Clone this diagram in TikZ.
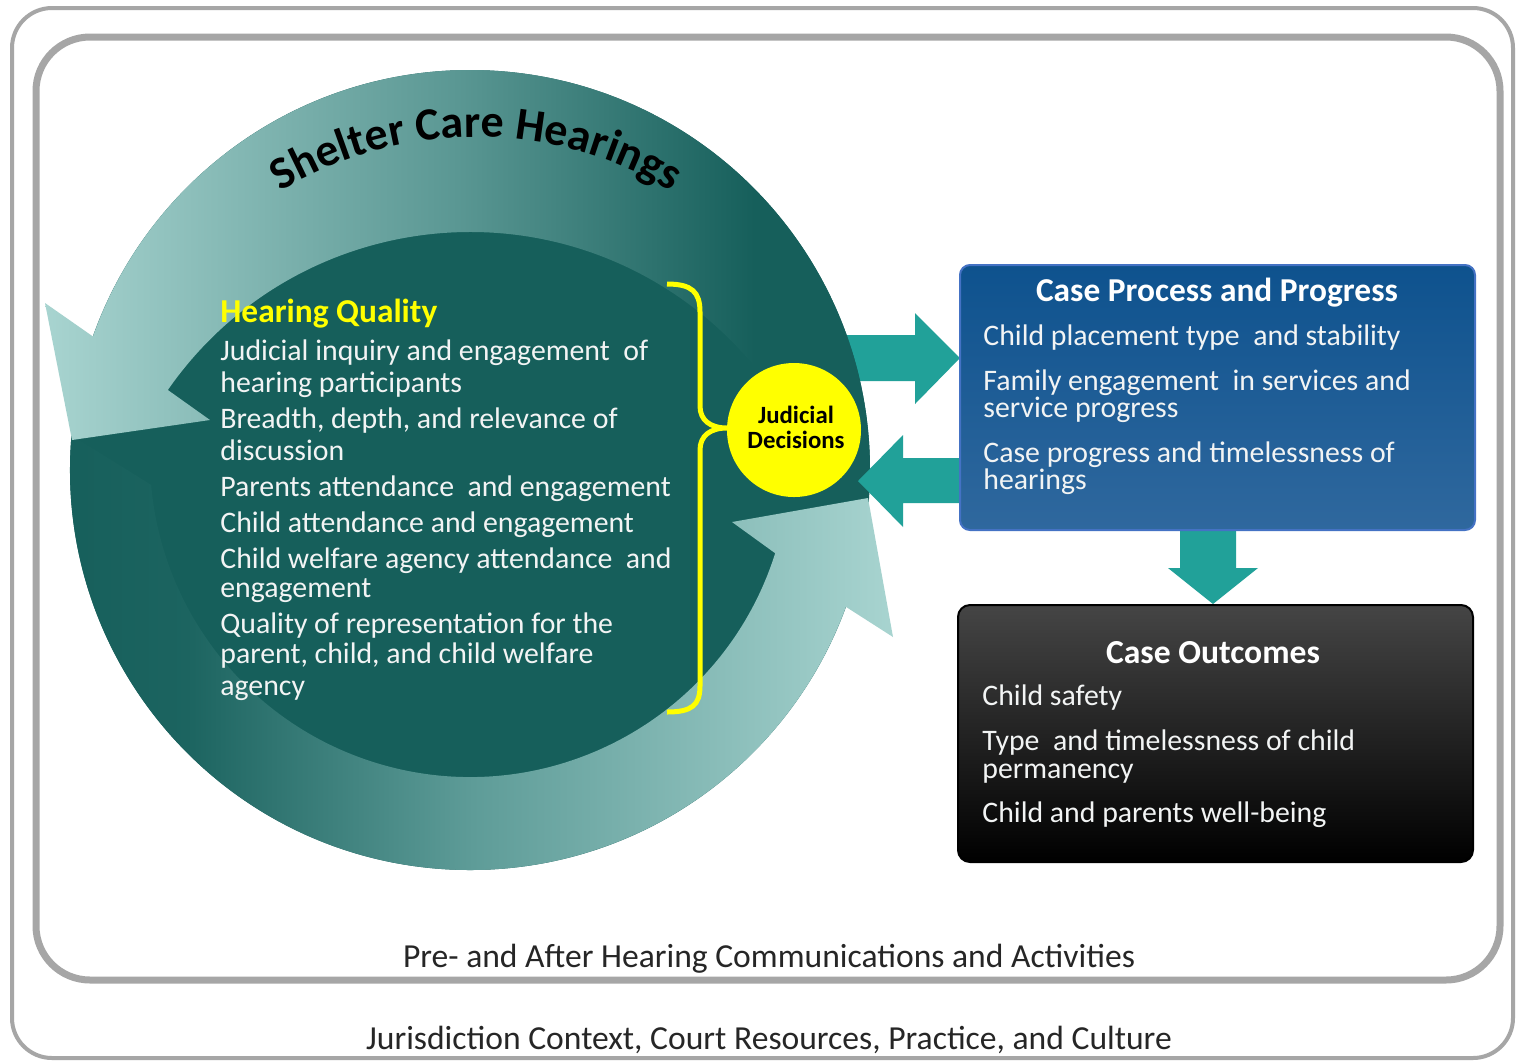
\documentclass[tikz,border=0pt]{standalone}
\usepackage{fontspec}
\setmainfont{Carlito}
\usetikzlibrary{decorations.text,calc}
\definecolor{darkteal}{HTML}{165F5B}
\definecolor{lightteal}{HTML}{A8D4D0}
\definecolor{midtealA}{HTML}{5E9C98}
\definecolor{midtealB}{HTML}{5A9793}
\definecolor{arrteal}{HTML}{21A199}
\definecolor{bordergray}{HTML}{A6A6A6}
\definecolor{boxblueA}{HTML}{0E528E}
\definecolor{boxblueB}{HTML}{1283C1}
\definecolor{boxblueC}{HTML}{2F689E}
\definecolor{boxedge}{HTML}{4472C4}
\definecolor{hqyellow}{HTML}{FFFF00}
\definecolor{txtgray}{HTML}{262626}
\definecolor{boxgray}{HTML}{454545}
\definecolor{bodywhite}{HTML}{F2F4F4}
\pgfdeclarehorizontalshading{botband}{100bp}{color(0bp)=(darkteal); color(25bp)=(darkteal); color(33bp)=(darkteal!92!midtealA); color(50bp)=(midtealA); color(75bp)=(lightteal); color(100bp)=(lightteal)}
\pgfdeclarehorizontalshading{topband}{100bp}{color(0bp)=(lightteal); color(25bp)=(lightteal); color(50bp)=(midtealB); color(68bp)=(darkteal); color(100bp)=(darkteal)}
\tikzset{
  border/.style={draw=bordergray, rounded corners=#1},
  fatarrow/.style={fill=arrteal},
  bodytxt/.style={font=\fontsize{14.9}{17}\selectfont, text=bodywhite, anchor=west, inner sep=0pt, text height=0.75em, text depth=0.22em, yshift=-2pt},
  boxtitle/.style={font=\fontsize{16.7}{19}\selectfont\bfseries, text=white, inner sep=0pt, yshift=-1.5pt},
  bluebox/.style={draw=boxedge, line width=1pt, rounded corners=5pt, top color=boxblueA, middle color=boxblueB, bottom color=boxblueC, minimum width=257.5pt, minimum height=132.5pt},
  blackbox/.style={draw=black, line width=1pt, rounded corners=6pt, top color=boxgray, middle color=black, bottom color=black, minimum width=257.5pt, minimum height=128.5pt},
  basetxt/.style={font=\fontsize{16.8}{19}\selectfont, text=txtgray, inner sep=0pt, yshift=-1.8pt},
}
\begin{document}
\begin{tikzpicture}[x=0.5pt,y=-0.5pt]
\useasboundingbox (0,0) rectangle (1516,1062);
\fill[white] (0,0) rectangle (1516,1062);
% borders
\draw[border=20pt, line width=2pt] (12,8) rectangle (1513,1058);
\draw[border=27pt, line width=3.5pt] (36,37) rectangle (1500,980);
% arrow from circle to box (under the disk)
\fill[fatarrow] (840,335) -- (915,335) -- (915,313) -- (960,358) -- (915,404) -- (915,381) -- (840,381) -- cycle;
% dark disk
\fill[darkteal] (470,470) circle[radius=400];
% bottom circular arrow
\shade[shading=botband]
  ($(470,470)+(185:400)$) arc[start angle=185, end angle=20, radius=400]
  -- (893,637) -- (868,498) -- (732,522)
  -- ($(470,457)+(17.5:320)$) arc[start angle=17.5, end angle=175, radius=320] -- cycle;
% top circular arrow
\shade[shading=topband]
  ($(470,470)+(0:400)$) arc[start angle=0, end angle=-160.5, radius=400]
  -- (45,303) -- (72,440) -- (210,420)
  -- ($(470,600)+(-145.2:368)$) arc[start angle=-145.2, end angle=-20.7, radius=368] -- cycle;
% arrow from box to circle
\fill[fatarrow] (965,458) -- (903,458) -- (903,435) -- (858,481) -- (903,527) -- (903,503) -- (965,503) -- cycle;
% arrow down
\fill[fatarrow] (1180,525) -- (1236,525) -- (1236,568) -- (1258,568) -- (1213,604) -- (1168,568) -- (1180,568) -- cycle;
% title on arc
\path[decorate, decoration={text along path, text align=center,
  text={|\fontsize{23}{23}\selectfont\bfseries|Shelter Care Hearings}}]
  ($(476,516)+(205:379)$) arc[start angle=205, end angle=335, radius=379];
% hearing quality
\node[font=\fontsize{16.7}{19}\selectfont\bfseries, text=hqyellow, anchor=west, inner sep=0pt, text height=0.75em, text depth=0.22em, yshift=-2.5pt] (hq) at (220,312) {Hearing Quality};
\node[bodytxt] (hq1) at (220,351) {Judicial inquiry and engagement\ \ of};
\node[bodytxt] (hq1b) at (220,383) {hearing participants};
\node[bodytxt] (hq2) at (220,419) {Breadth,\ depth,\ and relevance of};
\node[bodytxt] (hq2b) at (220,451) {discussion};
\node[bodytxt] (hq3) at (220,487) {Parents attendance\ \ and engagement};
\node[bodytxt] (hq4) at (220,523) {Child attendance and engagement};
\node[bodytxt] (hq5) at (220,559) {Child welfare agency attendance\ \ and};
\node[bodytxt] (hq5b) at (220,588) {engagement};
\node[bodytxt] (hq6) at (220,624) {Quality of representation for the};
\node[bodytxt] (hq6b) at (220,654) {parent,\ child, and child welfare};
\node[bodytxt] (hq6c) at (220,686) {agency};
% brace
\draw[hqyellow, line width=2.5pt]
  (667,284) .. controls (692,284) and (700,292) .. (700,312) -- (700,406)
  .. controls (700,420) and (710,428) .. (727,428)
  .. controls (710,428) and (700,436) .. (700,450) -- (700,686)
  .. controls (700,705) and (692,712) .. (667,712);
% judicial decisions
\node[circle, fill=hqyellow, minimum size=67pt, inner sep=0pt, align=center,
  font=\fontsize{12.4}{12.5}\selectfont\bfseries] (jd) at (794,430) {};
\node[align=center, inner sep=0pt, font=\fontsize{12.4}{12.5}\selectfont\bfseries] (jdt) at (796,427) {Judicial\\Decisions};
% blue box
\node[bluebox] (cpp) at (1217.5,397.5) {};
\node[boxtitle] (cppt) at (1217,290) {Case Process and Progress};
\node[bodytxt] (cpp1) at (983,336) {Child placement type\ \ and stability};
\node[bodytxt] (cpp2) at (983,381) {Family engagement\ \ in services and};
\node[bodytxt] (cpp2b) at (983,408) {service progress};
\node[bodytxt] (cpp3) at (983,453) {Case progress and timelessness of};
\node[bodytxt] (cpp3b) at (983,480) {hearings};
% black box
\node[blackbox] (co) at (1215.5,733.5) {};
\node[boxtitle, font=\fontsize{16.8}{19}\selectfont\bfseries] (cot) at (1213,650) {Case Outcomes};
\node[bodytxt] (co1) at (982,696) {Child safety};
\node[bodytxt] (co2) at (982,741) {Type\ \ and timelessness of child};
\node[bodytxt] (co2b) at (982,769) {permanency};
\node[bodytxt] (co3) at (982,813) {Child and parents well-being};
% bottom texts
\node[basetxt] (pre) at (769,955) {Pre- and After Hearing Communications and Activities};
\node[basetxt] (jur) at (769,1036) {Jurisdiction Context, Court Resources, Practice, and Culture};
\end{tikzpicture}
\end{document}
